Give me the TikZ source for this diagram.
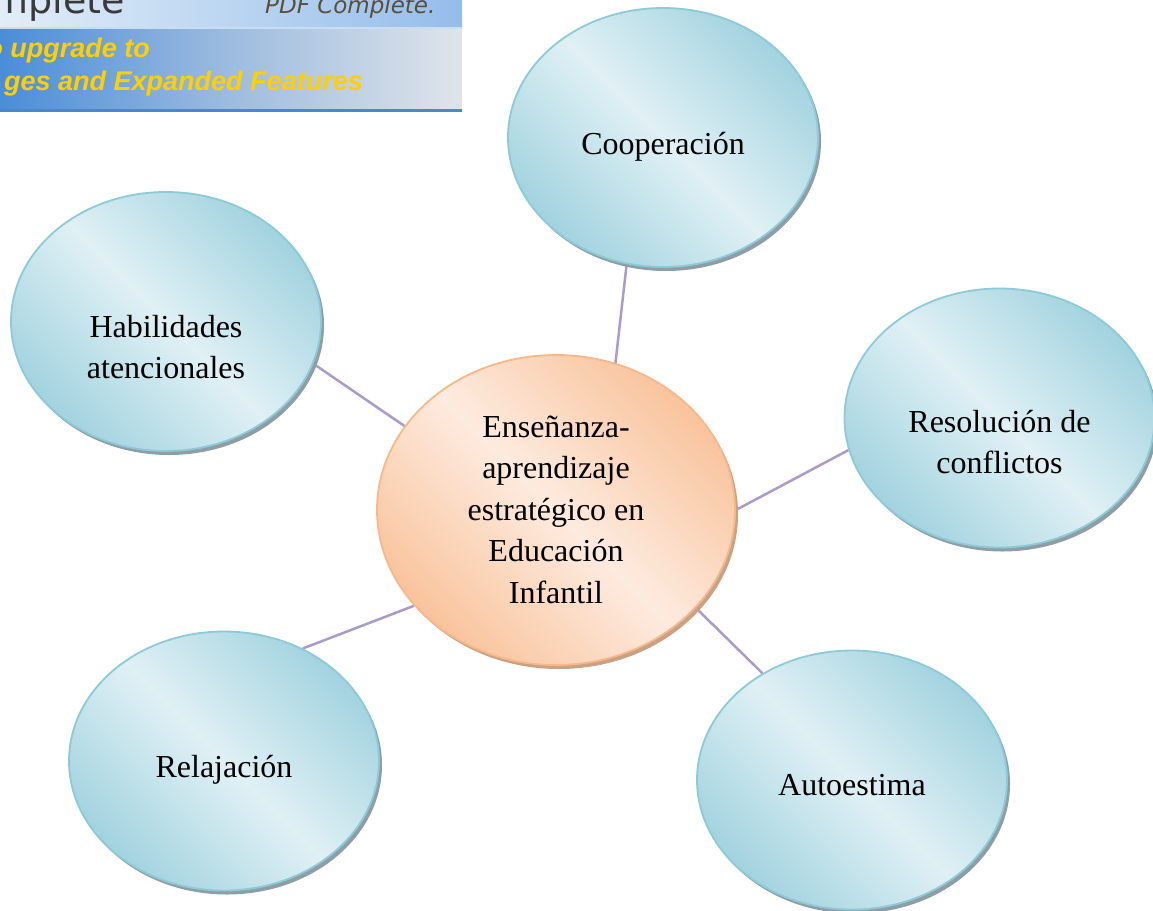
\documentclass[tikz,border=0pt]{standalone}
\usepackage{fontspec}
\setmainfont{Liberation Serif}
\newfontfamily\bannerfont{Liberation Sans}
\newfontfamily\logofont{DejaVu Sans}
\usetikzlibrary{shapes.geometric,shadows,backgrounds}
\definecolor{bubedge}{HTML}{8CCAD8}
\definecolor{bubdark}{HTML}{A2D3DF}
\definecolor{bublight}{HTML}{E0F0F5}
\definecolor{cenedge}{HTML}{F6B88A}
\definecolor{cendark}{HTML}{F9C39C}
\definecolor{cenlight}{HTML}{FDEBDF}
\definecolor{linkcol}{HTML}{A99CCB}
\definecolor{shadowblue}{HTML}{8F9EA4}
\definecolor{shadoworange}{HTML}{C9A286}
\definecolor{bantopL}{HTML}{E2EDF8}
\definecolor{bantopR}{HTML}{95BDEA}
\definecolor{bansep}{HTML}{C8DCF2}
\definecolor{banlowL}{HTML}{4A8DD8}
\definecolor{banlowM}{HTML}{9DBCDF}
\definecolor{banlowR}{HTML}{DFE4EA}
\definecolor{banedge}{HTML}{4C86CC}
\definecolor{logogray}{HTML}{3A3A3A}
\definecolor{pdfbrown}{HTML}{5A4E3E}
\definecolor{upyellow}{HTML}{FFCF00}
\newcommand{\mlines}[1]{\begin{tabular}[t]{@{}c@{}}#1\end{tabular}}
\tikzset{
  bub/.style={ellipse, inner sep=0pt, minimum width=310pt, minimum height=259pt,
    draw=bubedge, line width=1.8pt, shading=axis, top color=bubdark,
    bottom color=bubdark, middle color=bublight, shading angle=-45,
    drop shadow={shadow xshift=3pt, shadow yshift=-4pt, fill=shadowblue, opacity=1}},
  cenbub/.style={ellipse, inner sep=0pt, minimum width=358pt, minimum height=310pt,
    draw=cenedge, line width=1.8pt, shading=axis, top color=cendark,
    bottom color=cendark, middle color=cenlight, shading angle=-45,
    drop shadow={shadow xshift=3pt, shadow yshift=-4pt, fill=shadoworange, opacity=1}},
  txt/.style={font=\fontsize{32}{41.5}\selectfont, inner sep=0pt, anchor=base, text=black},
  link/.style={draw=linkcol, line width=2.5pt},
  bantxt/.style={anchor=base east, inner sep=0pt, text=upyellow,
    font=\bannerfont\bfseries\itshape\fontsize{27}{29}\selectfont},
}
\begin{document}
\begin{tikzpicture}[x=1pt,y=-1pt]
\useasboundingbox (0,0) rectangle (1153,910);
% watermark banner
\begin{scope}
  \clip (0,0) rectangle (462,112);
  \shade[left color=bantopL, right color=bantopR] (0,0) rectangle (462,28);
  \fill[bansep] (0,27) rectangle (462,29.5);
  \shade[left color=banlowL, right color=banlowR, middle color=banlowM] (0,29.5) rectangle (462,109);
  \fill[banedge] (0,109) rectangle (462,112);
  \node[anchor=base east, inner sep=0pt, text=logogray, font=\logofont\fontsize{38}{40}\selectfont] (logo) at (125,13) {mplete};
  \node[anchor=base west, inner sep=0pt, text=pdfbrown, font=\logofont\itshape\fontsize{23}{25}\selectfont] (pdfc) at (265,13) {PDF Complete.};
  \node[bantxt] (up1) at (150,57) {o upgrade to};
  \node[bantxt] (up2) at (363,90) {ges and Expanded Features};
\end{scope}
% bubbles
\node[bub] (coop) at (663,137.5) {};
\node[txt] (coopt) at ([yshift=-17pt]coop.center) {Cooperación};
\node[bub] (hab) at (166,321.5) {};
\node[txt] (habt) at ([yshift=-15.5pt]hab.center) {\mlines{Habilidades\\atencionales}};
\node[bub] (res) at (999.5,418) {};
\node[txt] (rest) at ([yshift=-14pt]res.center) {\mlines{Resolución de\\conflictos}};
\node[bub] (rel) at (224,761) {};
\node[txt] (relt) at ([yshift=-16pt]rel.center) {Relajación};
\node[bub] (auto) at (852,780) {};
\node[txt] (autot) at ([yshift=-15pt]auto.center) {Autoestima};
\node[cenbub] (cen) at (556,510) {};
\node[txt] (cent) at ([yshift=73pt]cen.center) {\mlines{Enseñanza-\\aprendizaje\\estratégico en\\Educación\\Infantil}};
% connectors
\begin{scope}[on background layer]
  \draw[link] (coop.-106.6) -- (cen.68.6);
  \draw[link] (hab.-16.7) -- (cen.151.8);
  \draw[link] (res.-168.5) -- (cen.0);
  \draw[link] (rel.55) -- (cen.214.7);
  \draw[link] (auto.130.4) -- (cen.-35.2);
\end{scope}
\end{tikzpicture}
\end{document}
